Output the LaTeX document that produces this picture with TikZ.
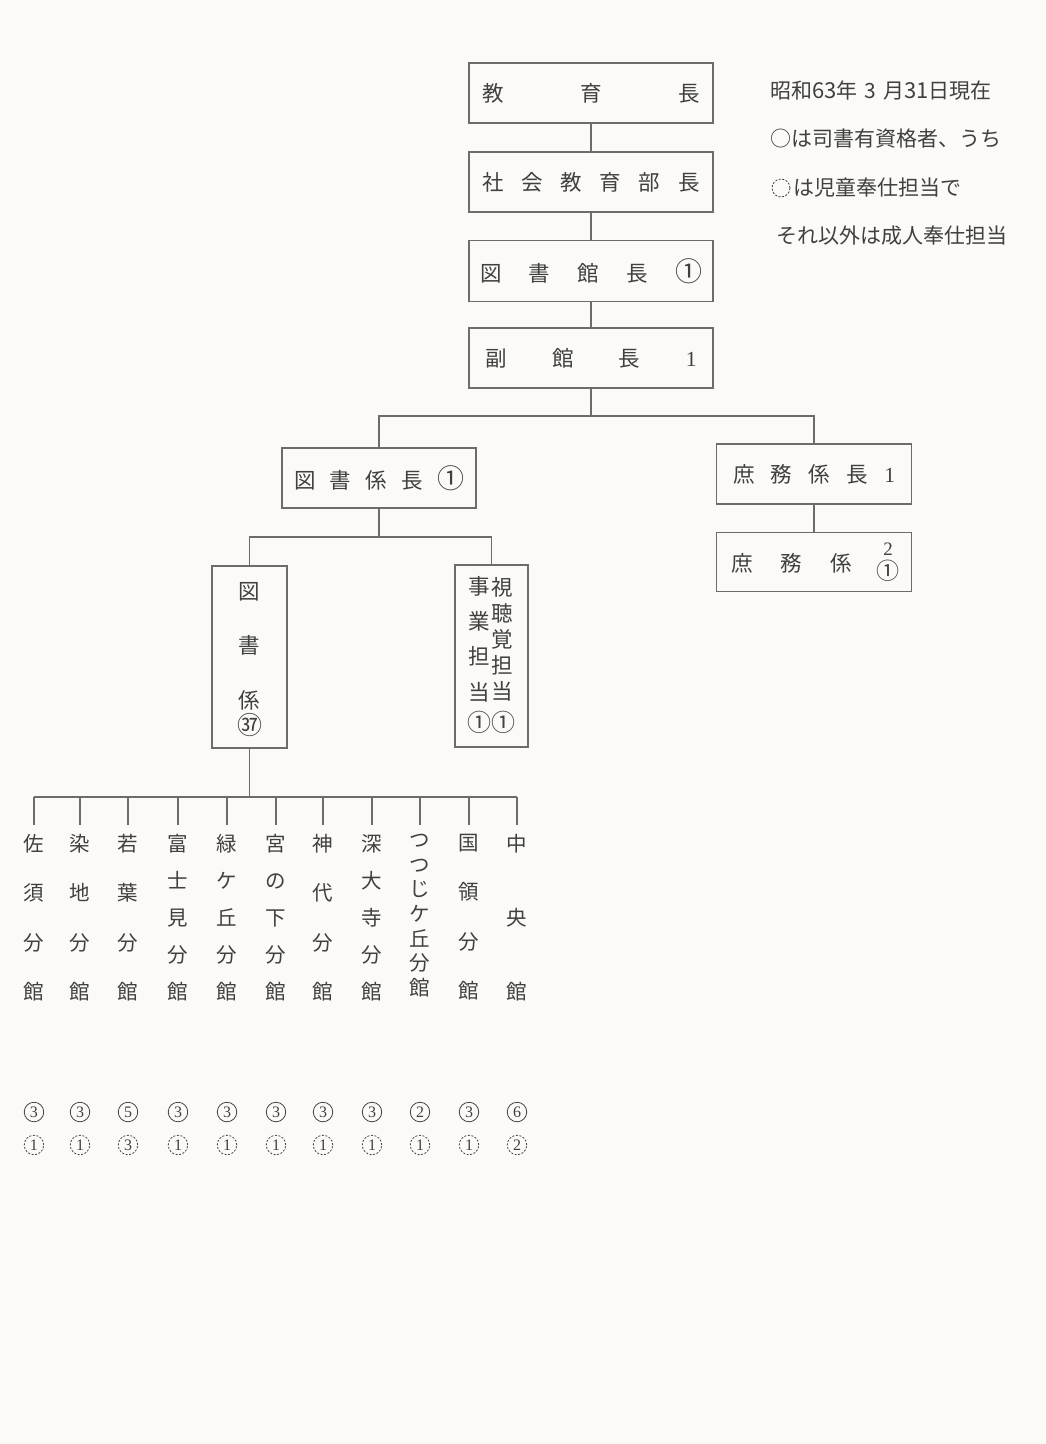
\documentclass[tikz,border=0pt]{standalone}
\usepackage{fontspec}
\setmainfont{Noto Sans CJK JP}
\newfontfamily\numserif{Liberation Serif}
\definecolor{ink}{HTML}{404040}
\definecolor{rulec}{HTML}{6C6C6C}
\definecolor{paper}{HTML}{FBFAF7}
\newcommand\vlfont[1]{\fontsize{20.5}{#1}\selectfont}
\newcommand\spreadtxt[2]{\makebox[#1][s]{#2}}
\newcommand\bigcnum[1]{{\fontsize{27}{24}\selectfont #1}}
\begin{document}
\begin{tikzpicture}[x=1pt,y=-1pt,
  box/.style={draw=rulec, line width=1.3pt, inner sep=0pt, text=ink,
              font=\fontsize{21.5}{24}\selectfont},
  conn/.style={draw=rulec, line width=1.3pt},
  lbl/.style={text=ink, inner sep=0pt, font=\fontsize{21}{24}\selectfont},
  vlab/.style={text=ink, inner sep=0pt, anchor=north, align=center},
  solidc/.style={circle, draw=ink, line width=0.8pt, minimum size=19.5pt, inner sep=0pt,
                 text=ink, font=\numserif\fontsize{16}{16}\selectfont},
  dashc/.style={solidc, dash pattern=on 2pt off 1.6pt}]
\fill[paper] (0,0) rectangle (1045,1444);
\useasboundingbox (0,0) rectangle (1045,1444);

% main column
\node[box, minimum width=244pt, minimum height=60pt] (edu) at (591,93)
  {\spreadtxt{218pt}{教\hfill 育\hfill 長}};
\node[box, minimum width=244pt, minimum height=60pt] (soc) at (591,182)
  {\spreadtxt{217pt}{社\hfill 会\hfill 教\hfill 育\hfill 部\hfill 長}};
\node[box, minimum width=244pt, minimum height=61pt] (lib) at (591,271)
  {\spreadtxt{222pt}{図\hfill 書\hfill 館\hfill 長\hfill \bigcnum{①}}};
\node[box, minimum width=244pt, minimum height=60pt] (vice) at (591,358)
  {\spreadtxt{211pt}{副\hfill 館\hfill 長\hfill {\numserif 1}}};
\draw[conn] (edu.south) -- (soc.north);
\draw[conn] (soc.south) -- (lib.north);
\draw[conn] (lib.south) -- (vice.north);

% second level
\coordinate (j1) at (591,416);
\node[box, minimum width=194pt, minimum height=60pt] (tosho) at (379,478)
  {\spreadtxt{170pt}{図\hfill 書\hfill 係\hfill 長\hfill \bigcnum{①}}};
\node[box, minimum width=195pt, minimum height=60pt] (shomu) at (814,474)
  {\spreadtxt{162pt}{庶\hfill 務\hfill 係\hfill 長\hfill {\numserif 1}}};
\draw[conn] (vice.south) -- (j1);
\draw[conn] (tosho.north) -- (tosho.north |- j1) -- (shomu.north |- j1) -- (shomu.north);

\node[box, minimum width=195pt, minimum height=59pt] (shomuka) at (814,562) {};
\node[lbl, anchor=west, font=\fontsize{21.5}{24}\selectfont] (shomukat) at (731,563)
  {\spreadtxt{121pt}{庶\hfill 務\hfill 係}};
\node[lbl, align=center, font=\fontsize{19}{24}\selectfont] (shomukan) at (888,562)
  {{\numserif 2}\\{\fontsize{23}{24}\selectfont ①}};
\draw[conn] (shomu.south) -- (shomuka.north);

% third level
\coordinate (j2) at (379,537);
\node[box, minimum width=75pt, minimum height=182pt] (toshoka) at (249.5,657) {};
\node[vlab, font=\fontsize{21.5}{54.5}\selectfont] (toshokat) at (249.5,582) {図\\書\\係};
\node[lbl, font=\fontsize{25}{25}\selectfont] (toshokan) at (249.5,725) {㊲};
\node[box, minimum width=73pt, minimum height=182pt] (av) at (491.5,656) {};
\node[vlab, font=\fontsize{21.5}{26}\selectfont] (avr) at (502.5,577) {視\\聴\\覚\\担\\当};
\node[vlab, font=\fontsize{21.5}{35.3}\selectfont] (avl) at (479.5,576) {事\\業\\担\\当};
\node[lbl, font=\fontsize{24}{24}\selectfont] (avn) at (491.5,722) {①①};
\draw[conn] (tosho.south) -- (j2);
\draw[conn] (toshoka.north) -- (toshoka.north |- j2) -- (av.north |- j2) -- (av.north);

% branches
\coordinate (j3) at (249.5,797);
\draw[conn] (toshoka.south) -- (j3);
\foreach \i/\x/\s/\t in {
  1/34/49.33/{佐\\須\\分\\館},
  2/80/49.33/{染\\地\\分\\館},
  3/128/49.33/{若\\葉\\分\\館},
  4/178/37/{富\\士\\見\\分\\館},
  5/227/37/{緑\\ケ\\丘\\分\\館},
  6/276/37/{宮\\の\\下\\分\\館},
  7/323/49.33/{神\\代\\分\\館},
  8/372/37/{深\\大\\寺\\分\\館},
  9/420/24.67/{つ\\つ\\じ\\ケ\\丘\\分\\館},
  10/469/49.33/{国\\領\\分\\館},
  11/517/74/{中\\央\\館}}{
  \node[vlab, font=\vlfont{\s pt}] (b\i) at (\x,834) {\t};
  \draw[conn] (b\i.north |- j3) -- ([yshift=9pt]b\i.north);
}
\draw[conn] (b1.north |- j3) -- (b11.north |- j3);

% staff counts
\foreach \i/\x/\a/\b in {1/34/3/1, 2/80/3/1, 3/128/5/3, 4/178/3/1, 5/227/3/1,
  6/276/3/1, 7/323/3/1, 8/372/3/1, 9/420/2/1, 10/469/3/1, 11/517/6/2}{
  \node[solidc] (u\i) at (\x,1112) {\a};
  \node[dashc] (l\i) at (\x,1145) {\b};
}

% legend
\node[lbl, anchor=west] (leg1) at (770,91)
  {昭和{\fontsize{22}{24}\selectfont 63}年\hspace{7pt}3\hspace{7pt}月{\fontsize{22}{24}\selectfont 31}日現在};
\node[lbl, anchor=west] (leg2) at (770,139) {○は司書有資格者、うち};
\node[dashc, minimum size=18pt] (legc) at (781,188) {};
\node[lbl, anchor=west] (leg3) at (793,188) {は児童奉仕担当で};
\node[lbl, anchor=west] (leg4) at (776,236) {それ以外は成人奉仕担当};
\end{tikzpicture}
\end{document}
